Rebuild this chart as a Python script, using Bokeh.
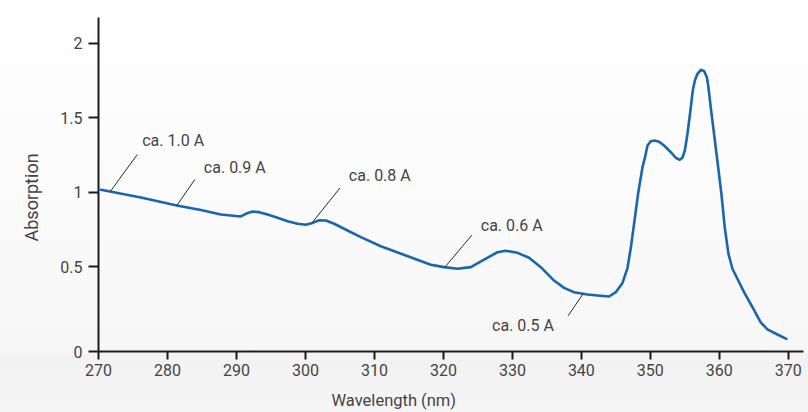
import numpy as np
from bokeh.plotting import figure
from bokeh.models import FixedTicker, Range1d, Title, ColumnDataSource, CustomJSTickFormatter
from bokeh.core.properties import value
from bokeh.embed import file_html
from bokeh.resources import INLINE

# Absorption spectrum (wavelength in nm, absorption in A)
wavelength = [270.35, 276.14, 281.36, 284.84, 287.74, 289.19, 290.64, 291.36, 292.33, 293.29,
              294.51, 295.96, 297.41, 298.86, 300.06, 301.03, 301.99, 302.96, 304.16, 306.10,
              308.03, 310.93, 314.55, 318.17, 320.10, 322.04, 323.97, 325.90, 327.84, 329.04,
              330.74, 332.42, 334.12, 336.04, 337.49, 338.94, 340.88, 342.32, 344.01, 344.99,
              345.96, 346.68, 347.16, 347.64, 348.22, 348.86, 349.23, 349.58, 350.06, 350.64,
              351.26, 351.99, 352.96, 353.68, 354.26, 354.65, 355.00, 355.38, 355.75, 356.15,
              356.45, 356.83, 357.33, 357.80, 358.19, 358.42, 358.75, 359.23, 359.81, 360.30,
              360.78, 361.32, 361.90, 362.62, 363.58, 364.80, 366.00, 366.97, 368.42, 369.72]
absorption = [1.018, 0.966, 0.913, 0.882, 0.852, 0.845, 0.839, 0.857, 0.872, 0.868,
              0.852, 0.830, 0.807, 0.790, 0.783, 0.796, 0.814, 0.812, 0.790, 0.745,
              0.700, 0.639, 0.577, 0.515, 0.499, 0.488, 0.499, 0.550, 0.599, 0.609,
              0.595, 0.562, 0.499, 0.409, 0.360, 0.331, 0.315, 0.309, 0.302, 0.331,
              0.393, 0.493, 0.627, 0.790, 0.991, 1.170, 1.237, 1.315, 1.344, 1.349,
              1.340, 1.315, 1.270, 1.233, 1.219, 1.233, 1.282, 1.394, 1.528, 1.684,
              1.751, 1.796, 1.823, 1.814, 1.773, 1.706, 1.572, 1.394, 1.176, 0.991,
              0.767, 0.588, 0.488, 0.421, 0.331, 0.230, 0.129, 0.081, 0.047, 0.018]

x_ticks = [270, 280, 290, 300, 310, 320, 330, 340, 350, 360, 370]
y_ticks = [0, 0.5, 1, 1.5, 2]

# Annotated points along the spectrum
note_wavelengths = [271.7, 281.36, 300.93, 320.2, 340.25]
note_texts = ["ca. 1.0 A", "ca. 0.9 A", "ca. 0.8 A", "ca. 0.6 A", "ca. 0.5 A"]

# ---- layout -------------------------------------------------------------
X_START, X_END = 270.0, 372.2
Y_START, Y_END = -0.067, 2.174
FRAME_W, FRAME_H = 705, 334
px_x = FRAME_W / (X_END - X_START)
px_y = FRAME_H / (Y_END - Y_START)

TEXT_COLOR = "#444444"
AXIS_COLOR = "#1c1c1c"
FONT = "Roboto"

p = figure(
    frame_width=FRAME_W, frame_height=FRAME_H,
    min_border_left=98, min_border_right=5, min_border_top=17, min_border_bottom=61,
    x_range=Range1d(X_START, X_END), y_range=Range1d(Y_START, Y_END),
    output_backend="svg", toolbar_location=None,
    background_fill_color=None, border_fill_color=None, outline_line_color=None,
    styles={"background": "linear-gradient(180deg, #ffffff 0px, #f7f7f7 350px, "
                          "#f2f2f2 357px, #f5f5f5 412px)"},
)
p.grid.visible = False

# axes
p.xaxis.ticker = FixedTicker(ticks=x_ticks)
# the zero label sits on the horizontal axis line
p.yaxis.ticker = FixedTicker(ticks=[Y_START if t == 0 else t for t in y_ticks])
p.yaxis.formatter = CustomJSTickFormatter(code="return tick < 0.25 ? '0' : String(tick)")

for ax in (p.xaxis, p.yaxis):
    ax.axis_line_color = AXIS_COLOR
    ax.axis_line_width = 2
    ax.major_tick_line_color = AXIS_COLOR
    ax.major_tick_line_width = 2
    ax.major_tick_in = 0
    ax.minor_tick_line_color = None
    ax.major_label_text_font = FONT
    ax.major_label_text_font_size = "16px"
    ax.major_label_text_color = TEXT_COLOR
p.xaxis.major_tick_out = 8
p.xaxis.major_label_standoff = 4
p.yaxis.major_tick_out = 10
p.yaxis.major_label_standoff = 6

# axis titles
p.add_layout(Title(text="Wavelength (nm)", align="left", offset=233, standoff=21,
                   text_font=FONT, text_font_size="16.5px", text_font_style="normal",
                   text_color=TEXT_COLOR), "below")
p.add_layout(Title(text="Absorption", align="left", offset=110, standoff=32,
                   text_font=FONT, text_font_size="18px", text_font_style="normal",
                   text_color=TEXT_COLOR), "left")

# spectrum
p.line(wavelength, absorption, line_color="#1a66ab", line_width=2.6,
       line_join="round", line_cap="round")

# annotations with leader lines
leader_px = [(27, -37), (18, -26), (28, -35), (27, -32), (-15, 22)]
text_px = [(32, -51), (27, -38), (37, -48), (36, -42), (-91, 32)]
ax_ = np.array(note_wavelengths)
ay_ = np.interp(ax_, wavelength, absorption)
x1 = ax_ + np.array([d[0] for d in leader_px]) / px_x
y1 = ay_ - np.array([d[1] for d in leader_px]) / px_y
p.segment(x0=ax_, y0=ay_, x1=x1, y1=y1, line_color="#2a2a2a", line_width=1)

src = ColumnDataSource(dict(
    x=ax_, y=ay_, text=note_texts,
    xo=[d[0] for d in text_px], yo=[d[1] for d in text_px],
))
p.text(x="x", y="y", text="text", x_offset="xo", y_offset="yo", source=src,
       text_font=value(FONT), text_font_size="16px", text_color=TEXT_COLOR,
       text_align="left", text_baseline="middle")

open("out.html", "w").write(file_html(p, INLINE))
